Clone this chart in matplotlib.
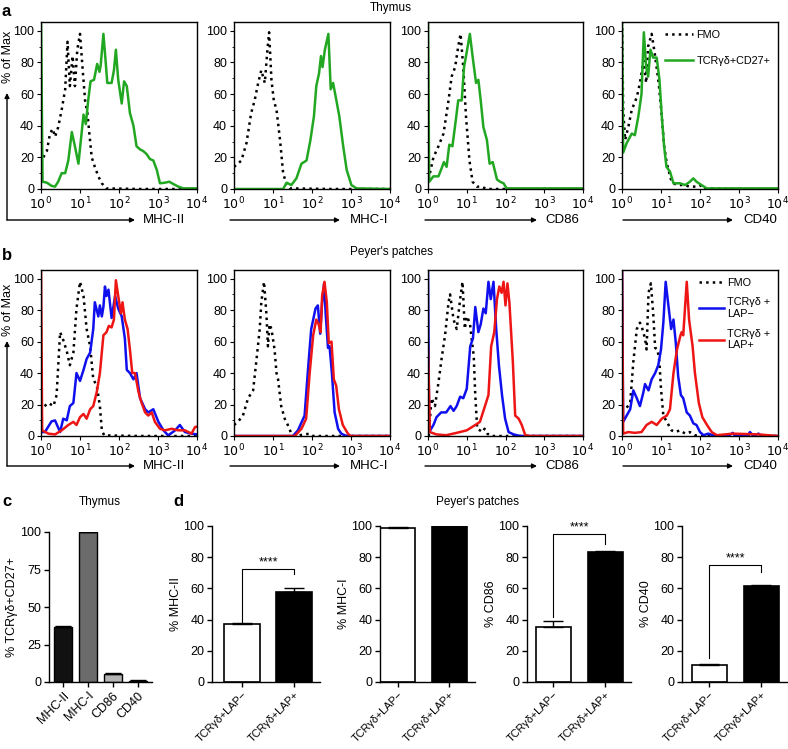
import numpy as np
import matplotlib
matplotlib.use('Agg')
import matplotlib.pyplot as plt
from matplotlib.patches import FancyArrowPatch
from matplotlib.ticker import LogLocator, NullFormatter, MultipleLocator

plt.rcParams['font.family'] = ['Liberation Sans', 'DejaVu Sans']
plt.rcParams['font.size'] = 9
plt.rcParams['axes.linewidth'] = 1.0

# ---------------- data (x in log10 units, y in % of max) ----------------
# row a, thymus
a1_fmo_x = [0.06, 0.15, 0.23, 0.30, 0.36, 0.44, 0.53, 0.62, 0.68, 0.74, 0.81, 0.87, 0.93, 1.00, 1.07, 1.13, 1.19, 1.24, 1.30, 1.38, 1.47, 1.56, 1.67, 2.5, 4.0]
a1_fmo_y = [20, 24, 35, 38, 33, 39, 50, 63, 93, 65, 84, 65, 88, 98, 75, 56, 48, 35, 20, 14, 8, 3.6, 0.4, 0, 0]
a1_cd27_x = [0.0, 0.04, 0.15, 0.27, 0.36, 0.44, 0.53, 0.62, 0.70, 0.79, 0.87, 0.96, 1.04, 1.09, 1.15, 1.21, 1.27, 1.36, 1.44, 1.50, 1.53, 1.60, 1.64, 1.70, 1.81, 1.87, 1.92, 1.98, 2.07, 2.13, 2.20, 2.28, 2.37, 2.45, 2.54, 2.62, 2.71, 2.79, 2.88, 2.97, 3.05, 3.18, 3.29, 3.39, 3.52, 3.65, 4.0]
a1_cd27_y = [110, 4.6, 4, 2, 1.5, 4.6, 10, 10, 18, 36, 27, 16, 35, 47, 41, 56, 68, 69, 79, 74, 78, 98, 86, 67, 67, 75, 88, 69, 54, 68, 65, 48, 40, 27, 25, 24, 22, 19, 18, 12, 3.6, 4, 4.6, 3.2, 1.5, 0.4, 0.4]

a2_fmo_x = [0.0, 0.10, 0.19, 0.32, 0.44, 0.53, 0.62, 0.70, 0.79, 0.85, 0.90, 0.96, 1.02, 1.09, 1.18, 1.26, 1.35, 1.43, 2.5, 4.0]
a2_fmo_y = [14, 16, 18, 29, 48, 56, 67, 75, 67, 86, 99, 69, 56, 50, 31, 10, 2.5, 0.4, 0, 0]
a2_cd27_x = [0.0, 1.26, 1.35, 1.47, 1.60, 1.73, 1.86, 1.96, 2.05, 2.11, 2.18, 2.23, 2.27, 2.33, 2.42, 2.48, 2.54, 2.61, 2.70, 2.80, 2.89, 3.01, 3.14, 4.0]
a2_cd27_y = [0, 0, 4, 2.5, 6.7, 16, 18, 31, 46, 65, 73, 84, 77, 88, 98, 63, 67, 58, 46, 27, 12, 2.5, 0.4, 0]

a3_fmo_x = [0.05, 0.14, 0.27, 0.40, 0.53, 0.61, 0.70, 0.78, 0.84, 0.91, 0.98, 1.07, 1.15, 1.26, 1.39, 1.50, 2.5, 4.0]
a3_fmo_y = [10, 20, 27, 35, 56, 71, 77, 90, 98, 77, 46, 18, 4.6, 1.5, 1.5, 0, 0, 0]
a3_cd27_x = [0.0, 0.03, 0.14, 0.27, 0.35, 0.41, 0.48, 0.55, 0.63, 0.72, 0.78, 0.87, 0.93, 1.01, 1.08, 1.16, 1.24, 1.30, 1.36, 1.43, 1.52, 1.59, 1.67, 1.78, 1.86, 1.95, 2.03, 4.0]
a3_cd27_y = [110, 4.6, 8, 8, 13, 17, 14, 28, 27, 44, 56, 56, 77, 88, 98, 82, 67, 69, 56, 39, 31, 16, 17, 6, 4.6, 3.6, 0.4, 0.4]

a4_fmo_x = [0.0, 0.03, 0.08, 0.16, 0.25, 0.38, 0.46, 0.55, 0.62, 0.67, 0.76, 0.85, 0.94, 1.02, 1.08, 1.15, 1.27, 1.40, 1.58, 1.74, 1.96, 2.05, 2.13, 3.0, 4.0]
a4_fmo_y = [110, 50, 31, 39, 50, 58, 67, 81, 67, 90, 98, 84, 67, 46, 27, 16, 4.6, 2.5, 2.5, 1.5, 1.5, 2.5, 0.4, 0, 0]
a4_cd27_x = [0.0, 0.03, 0.12, 0.25, 0.33, 0.42, 0.50, 0.56, 0.62, 0.67, 0.73, 0.80, 0.89, 0.96, 1.02, 1.08, 1.14, 1.23, 1.32, 1.49, 1.62, 1.74, 1.83, 1.91, 2.04, 2.17, 4.0]
a4_cd27_y = [110, 23, 29, 35, 34, 46, 60, 99, 77, 71, 88, 83, 83, 69, 46, 27, 14, 11, 3.6, 3.6, 2.5, 4.6, 6.7, 4.6, 2.5, 0.4, 0.4]

# row b, Peyer's patches
b1_fmo_x = [0.09, 0.19, 0.32, 0.40, 0.49, 0.57, 0.66, 0.74, 0.83, 0.91, 1.00, 1.09, 1.17, 1.26, 1.34, 1.43, 1.51, 1.56, 1.62, 2.5, 4.0]
b1_fmo_y = [19, 21, 19, 26, 66, 61, 54, 45, 53, 81, 98, 89, 68, 57, 36, 32, 19, 3.6, 0.4, 0, 0]
b1_neg_x = [0.0, 0.10, 0.27, 0.36, 0.49, 0.57, 0.66, 0.74, 0.83, 0.91, 1.00, 1.09, 1.17, 1.26, 1.34, 1.38, 1.47, 1.51, 1.56, 1.60, 1.64, 1.68, 1.73, 1.81, 1.90, 1.98, 2.07, 2.15, 2.20, 2.28, 2.37, 2.45, 2.54, 2.67, 2.75, 2.88, 3.01, 3.14, 3.26, 3.44, 3.56, 3.69, 3.86, 4.0]
b1_neg_y = [2.5, 2.5, 9.3, 9.9, 2.5, 11, 10, 19, 21, 40, 35, 42, 49, 53, 68, 85, 76, 83, 76, 82, 95, 89, 93, 75, 89, 81, 76, 62, 42, 40, 36, 40, 24, 17, 15, 17, 9, 3.6, 0.4, 3.6, 7, 2.5, 1.5, 1]
b1_pos_x = [0.0, 0.03, 0.19, 0.36, 0.53, 0.70, 0.83, 0.91, 1.00, 1.09, 1.17, 1.26, 1.34, 1.43, 1.51, 1.60, 1.68, 1.74, 1.81, 1.87, 1.92, 1.98, 2.05, 2.09, 2.15, 2.22, 2.28, 2.34, 2.41, 2.50, 2.58, 2.67, 2.75, 2.84, 2.92, 3.05, 3.18, 3.35, 3.52, 3.69, 3.86, 3.95, 4.0]
b1_pos_y = [110, 3.6, 1.5, 1, 3.6, 7, 9, 7, 12, 14, 11, 17, 19, 28, 40, 64, 66, 70, 69, 74, 99, 89, 78, 85, 74, 68, 55, 40, 40, 28, 21, 15, 13, 15, 9, 4.6, 3.6, 4.6, 3.6, 3.6, 1.5, 5.7, 6]

b2_fmo_x = [0.0, 0.10, 0.23, 0.36, 0.49, 0.57, 0.66, 0.70, 0.77, 0.83, 0.87, 0.91, 0.96, 1.04, 1.09, 1.13, 1.21, 1.30, 1.38, 1.47, 1.56, 1.94, 2.03, 4.0]
b2_fmo_y = [7, 9, 13, 24, 29, 47, 68, 85, 98, 78, 57, 71, 68, 55, 40, 36, 19, 11, 7, 1.5, 0, 1.5, 0, 0]
b2_neg_x = [0.0, 1.51, 1.64, 1.81, 1.90, 1.98, 2.09, 2.15, 2.21, 2.26, 2.31, 2.35, 2.41, 2.45, 2.51, 2.58, 2.67, 2.75, 2.88, 4.0]
b2_neg_y = [0, 0, 3.6, 13, 43, 68, 81, 83, 65, 85, 97, 78, 56, 57, 40, 15, 4.6, 1.5, 0, 0]
b2_pos_x = [0.0, 1.56, 1.73, 1.85, 1.94, 2.03, 2.11, 2.17, 2.22, 2.26, 2.32, 2.38, 2.43, 2.50, 2.56, 2.62, 2.69, 2.79, 2.92, 2.99, 4.0]
b2_pos_y = [0, 0, 4.6, 11, 40, 64, 74, 71, 66, 89, 98, 85, 59, 60, 36, 32, 17, 7, 1.5, 0, 0]

b3_fmo_x = [0.02, 0.09, 0.18, 0.27, 0.35, 0.44, 0.53, 0.57, 0.66, 0.74, 0.83, 0.89, 0.95, 1.00, 1.08, 1.14, 1.18, 1.22, 1.27, 1.34, 1.40, 1.46, 1.53, 1.62, 4.0]
b3_fmo_y = [0, 24, 19, 34, 49, 64, 85, 90, 74, 68, 87, 98, 68, 76, 72, 59, 51, 26, 4.6, 3.6, 2.5, 4.6, 1.5, 0, 0]
b3_neg_x = [0.0, 0.03, 0.14, 0.22, 0.34, 0.47, 0.58, 0.66, 0.74, 0.83, 0.91, 1.00, 1.09, 1.16, 1.22, 1.30, 1.36, 1.43, 1.49, 1.56, 1.62, 1.69, 1.76, 1.83, 1.91, 1.99, 2.08, 2.21, 2.38, 4.0]
b3_neg_y = [110, 2.5, 7, 12, 15, 15, 19, 16, 19, 25, 24, 30, 57, 62, 82, 66, 71, 81, 78, 98, 87, 98, 68, 45, 26, 11, 2.5, 1, 0, 0]
b3_pos_x = [0.0, 0.05, 0.22, 0.47, 0.74, 1.00, 1.22, 1.34, 1.47, 1.56, 1.63, 1.71, 1.78, 1.84, 1.90, 1.95, 2.00, 2.05, 2.10, 2.19, 2.25, 2.34, 2.42, 2.51, 2.65, 4.0]
b3_pos_y = [56, 2.5, 1, 0.5, 2, 3.6, 7, 9, 19, 26, 57, 66, 87, 95, 91, 98, 83, 97, 85, 47, 13, 11, 7, 0.5, 0, 0]

b4_fmo_x = [0.12, 0.21, 0.29, 0.38, 0.46, 0.50, 0.59, 0.63, 0.68, 0.74, 0.80, 0.85, 0.91, 0.96, 1.00, 1.06, 1.15, 1.27, 1.36, 1.49, 1.62, 1.74, 1.87, 2.0, 4.0]
b4_fmo_y = [18, 21, 47, 68, 72, 70, 62, 55, 91, 97, 78, 56, 55, 47, 30, 13, 9, 3.6, 2.5, 3.6, 1.5, 2.5, 0.5, 0, 0]
b4_neg_x = [0.0, 0.03, 0.12, 0.21, 0.29, 0.38, 0.46, 0.55, 0.59, 0.68, 0.76, 0.85, 0.93, 1.00, 1.06, 1.12, 1.18, 1.26, 1.32, 1.38, 1.44, 1.51, 1.57, 1.66, 1.74, 1.83, 1.91, 2.00, 2.09, 2.21, 2.38, 2.73, 2.84, 2.90, 3.22, 3.28, 3.37, 3.50, 3.58, 4.0]
b4_neg_y = [110, 9, 13, 17, 29, 24, 19, 28, 33, 29, 36, 40, 45, 55, 72, 98, 85, 68, 74, 59, 38, 26, 24, 15, 13, 8, 7, 2.5, 0.5, 1.5, 0, 0, 2, 0, 0, 2.5, 0, 1.5, 0, 0]
b4_pos_x = [0.0, 0.03, 0.16, 0.33, 0.50, 0.63, 0.76, 0.89, 1.02, 1.15, 1.23, 1.32, 1.41, 1.50, 1.53, 1.57, 1.62, 1.66, 1.72, 1.81, 1.87, 1.97, 2.06, 2.18, 2.30, 2.43, 2.84, 3.50, 4.0]
b4_pos_y = [110, 1.5, 2.5, 2, 2.5, 7, 9, 7, 11, 13, 17, 40, 55, 64, 66, 64, 83, 98, 74, 57, 40, 21, 12, 7, 2.5, 0.5, 1.5, 1, 0]

# panel c
c_labels = ['MHC-II', 'MHC-I', 'CD86', 'CD40']
c_values = [36.5, 100, 5.5, 1.0]
c_errors = [0.7, 0.2, 0.6, 0.3]
c_colors = ['#111111', '#6b6b6b', '#b4b4b4', '#8a8a8a']

# panel d
d_groups = ['TCRγδ+LAP−', 'TCRγδ+LAP+']
d_markers = ['MHC-II', 'MHC-I', 'CD86', 'CD40']
d_means = [[37, 57.5], [99, 100], [35.5, 83.5], [11, 61.5]]
d_errs = [[1, 2.5], [0.5, 0.2], [3.5, 0.7], [0.5, 1.0]]
d_brackets = [(72.7, 38.6, 69.5), None, (95.1, 41.8, 88.7), (75.3, 15.2, 70.2)]

hist_markers = ['MHC-II', 'MHC-I', 'CD86', 'CD40']

# ---------------- figure ----------------
W, H = 788, 749
fig = plt.figure(figsize=(W / 100, H / 100), dpi=100)


def box(l, t, r, b):
    return [l / W, 1 - b / H, (r - l) / W, (b - t) / H]


def fx(x):
    return x / W


def fy(y):
    return 1 - y / H


def arrow(x0, y0, x1, y1):
    fig.add_artist(FancyArrowPatch((fx(x0), fy(y0)), (fx(x1), fy(y1)), transform=fig.transFigure,
                                   arrowstyle='-|>', mutation_scale=7, lw=1.0, color='black',
                                   shrinkA=0, shrinkB=0))


green = '#22a722'
blue = '#1010ee'
red = '#ee1515'


def hist_ax(l, t, r, b, curves):
    ax = fig.add_axes(box(l, t, r, b))
    for lx, ly, col, ls in curves:
        ax.plot(10 ** np.array(lx), ly, color=col, ls=ls, lw=1.8)
    ax.set_xscale('log')
    ax.set_xlim(1, 1e4)
    ax.set_ylim(0, 105.5)
    ax.set_xticks([1, 10, 100, 1000, 10000])
    ax.set_xticklabels(['$10^{0}$', '$10^{1}$', '$10^{2}$', '$10^{3}$', '$10^{4}$'])
    ax.xaxis.set_minor_locator(LogLocator(base=10, subs=np.arange(2, 10)))
    ax.xaxis.set_minor_formatter(NullFormatter())
    ax.set_yticks([0, 20, 40, 60, 80, 100])
    ax.yaxis.set_minor_locator(MultipleLocator(10))
    ax.tick_params(which='major', length=3, width=0.8, pad=2, labelsize=9)
    ax.tick_params(which='minor', length=1.8, width=0.6)
    return ax


col_x = [(41, 197), (234, 390), (428, 583), (622, 778)]

a_data = [
    [(a1_fmo_x, a1_fmo_y, 'black', ':'), (a1_cd27_x, a1_cd27_y, green, '-')],
    [(a2_fmo_x, a2_fmo_y, 'black', ':'), (a2_cd27_x, a2_cd27_y, green, '-')],
    [(a3_fmo_x, a3_fmo_y, 'black', ':'), (a3_cd27_x, a3_cd27_y, green, '-')],
    [(a4_fmo_x, a4_fmo_y, 'black', ':'), (a4_cd27_x, a4_cd27_y, green, '-')],
]
b_data = [
    [(b1_fmo_x, b1_fmo_y, 'black', ':'), (b1_neg_x, b1_neg_y, blue, '-'), (b1_pos_x, b1_pos_y, red, '-')],
    [(b2_fmo_x, b2_fmo_y, 'black', ':'), (b2_neg_x, b2_neg_y, blue, '-'), (b2_pos_x, b2_pos_y, red, '-')],
    [(b3_fmo_x, b3_fmo_y, 'black', ':'), (b3_neg_x, b3_neg_y, blue, '-'), (b3_pos_x, b3_pos_y, red, '-')],
    [(b4_fmo_x, b4_fmo_y, 'black', ':'), (b4_neg_x, b4_neg_y, blue, '-'), (b4_pos_x, b4_pos_y, red, '-')],
]

a_axes = []
for i, (l, r) in enumerate(col_x):
    a_axes.append(hist_ax(l, 22, r, 189, a_data[i]))
b_axes = []
for i, (l, r) in enumerate(col_x):
    b_axes.append(hist_ax(l, 270, r, 436, b_data[i]))

a_axes[3].legend(['FMO', 'TCRγδ+CD27+'], loc='upper right', frameon=False, fontsize=7.8,
                 handlelength=2.6, handletextpad=0.3, labelspacing=1.5, borderaxespad=0.3)
b_axes[3].legend(['FMO', 'TCRγδ +\nLAP−', 'TCRγδ +\nLAP+'], loc='upper right', frameon=False,
                 fontsize=7.8, handlelength=2.3, handletextpad=0.3, labelspacing=0.9, borderaxespad=0.3)

# axis arrows for the histogram rows
arrow_spans = [(7, 135), (230, 340), (425, 537), (623, 733)]
label_x = [143, 350, 545, 743]
for yrow, ytop, ymid in [(220, 93, 57), (466, 341, 310)]:
    arrow(7, yrow, 7, ytop)
    fig.text(fx(8), fy(ymid), '% of Max', rotation=90, ha='center', va='center', fontsize=9)
    for (x0, x1), lxp, m in zip(arrow_spans, label_x, hist_markers):
        arrow(x0, yrow, x1, yrow)
        fig.text(fx(lxp), fy(yrow), m, ha='left', va='center', fontsize=9.5)

fig.text(fx(391), fy(8), 'Thymus', ha='center', va='center', fontsize=8.5)
fig.text(fx(392), fy(252), "Peyer's patches", ha='center', va='center', fontsize=8.5)
fig.text(fx(2), fy(11), 'a', ha='left', va='center', fontsize=12, fontweight='bold')
fig.text(fx(2), fy(256), 'b', ha='left', va='center', fontsize=12, fontweight='bold')
fig.text(fx(2), fy(501), 'c', ha='left', va='center', fontsize=12, fontweight='bold')
fig.text(fx(173), fy(501), 'd', ha='left', va='center', fontsize=12, fontweight='bold')
fig.text(fx(100), fy(502), 'Thymus', ha='center', va='center', fontsize=8.5)
fig.text(fx(478), fy(502), "Peyer's patches", ha='center', va='center', fontsize=8.5)

# ---------------- panel c ----------------
axc = fig.add_axes(box(49, 532, 152, 682))
xc = np.arange(len(c_labels))
axc.bar(xc, c_values, width=0.72, color=c_colors, edgecolor='black', lw=1.0)
axc.errorbar(xc, c_values, yerr=[np.zeros(4), c_errors], fmt='none', ecolor='black', elinewidth=1, capsize=6, capthick=1)
axc.set_xlim(-0.56, 3.56)
axc.set_ylim(0, 100)
axc.set_yticks([0, 25, 50, 75, 100])
axc.set_xticks(xc)
axc.set_xticklabels(c_labels, rotation=45, ha='right', rotation_mode='anchor')
axc.set_ylabel('% TCRγδ+CD27+', fontsize=9, labelpad=2)
for s in ['top', 'right']:
    axc.spines[s].set_visible(False)
axc.tick_params(length=3.5, width=1.0, pad=2, labelsize=9)

# ---------------- panel d ----------------
d_x = [(212, 320, -0.58, 1.5), (380, 475, -0.34, 1.5), (527, 631, -0.51, 1.5), (682, 787, -0.53, 1.5)]
for i in range(4):
    l, r, x0, x1 = d_x[i]
    ax = fig.add_axes(box(l, 526, r, 682))
    xd = np.arange(2)
    ax.bar(xd, d_means[i], width=0.68, color=['white', 'black'], edgecolor='black', lw=1.2)
    ax.errorbar(xd, d_means[i], yerr=[np.zeros(2), d_errs[i]], fmt='none', ecolor='black',
                elinewidth=1, capsize=7, capthick=1)
    if d_brackets[i] is not None:
        top, left_end, right_end = d_brackets[i]
        ax.plot([0, 0, 1, 1], [left_end, top, top, right_end], color='black', lw=0.8)
        ax.text(0.5, top + 0.3, '****', ha='center', va='bottom', fontsize=9)
    ax.set_xlim(x0, x1)
    ax.set_ylim(0, 100)
    ax.set_yticks([0, 20, 40, 60, 80, 100])
    ax.set_xticks(xd)
    ax.set_xticklabels(d_groups, rotation=45, ha='right', rotation_mode='anchor', fontsize=7.8)
    ax.set_ylabel('% ' + d_markers[i], fontsize=9, labelpad=1)
    for s in ['top', 'right']:
        ax.spines[s].set_visible(False)
    ax.tick_params(length=3.5, width=1.0, pad=2, labelsize=9)
    ax.tick_params(axis='x', labelsize=7.8)

fig.savefig('out.png', dpi=100)
